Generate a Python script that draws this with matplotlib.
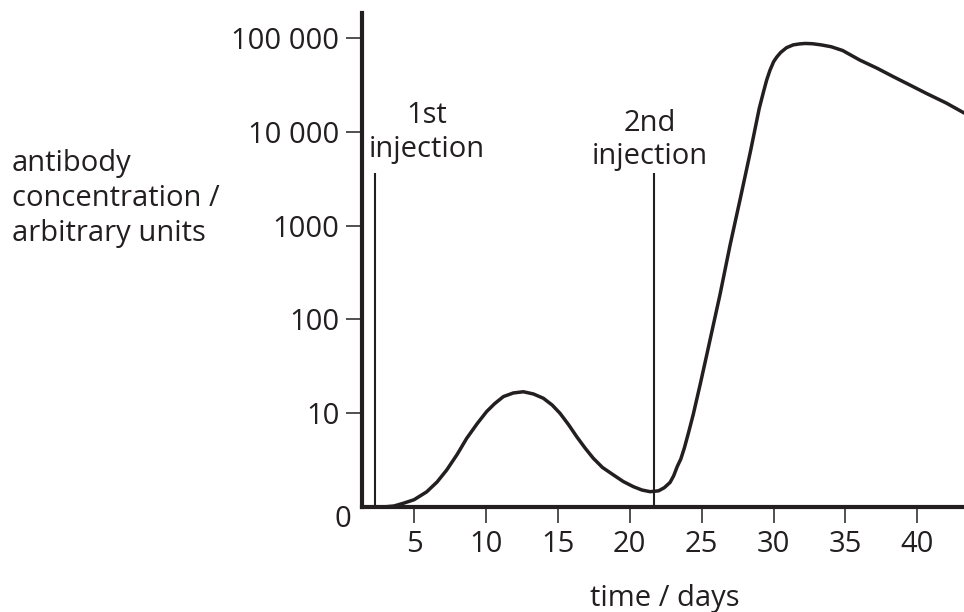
import matplotlib
matplotlib.use("Agg")
import matplotlib.pyplot as plt
from matplotlib.ticker import FixedLocator, FixedFormatter, NullLocator

plt.rcParams['font.family'] = ['Open Sans', 'DejaVu Sans']
INK = '#231f20'

# ---- data ----
days = [2.3, 3.0, 3.6, 4.25, 5.0, 5.88, 6.6, 7.27, 8.0, 8.66, 9.4, 10.05, 10.6,
        11.21, 11.9, 12.6, 13.3, 13.99, 14.6, 15.15, 15.75, 16.31, 16.9, 17.46,
        18.1, 18.86, 19.55, 20.25, 20.85, 21.41, 22.0, 22.4, 22.8, 23.05, 23.3,
        23.55, 23.8, 24.1, 24.42, 24.9, 25.35, 26.28, 26.97, 27.67, 28.4, 29.0,
        29.3, 29.52, 29.75, 30.0, 30.22, 30.5, 30.9, 31.37, 31.8, 32.19, 32.7,
        33.3, 34.0, 34.8, 36.0, 37.2, 38.33, 39.5, 40.65, 42.0, 43.3]
concentration = [1.0, 1.0, 1.02, 1.09, 1.19, 1.445, 1.84, 2.47, 3.63, 5.38, 7.76,
                 10.4, 12.6, 15.0, 16.4, 16.9, 16.0, 14.4, 12.2, 9.95, 7.50, 5.60,
                 4.22, 3.30, 2.63, 2.19, 1.86, 1.64, 1.51, 1.45, 1.48, 1.60, 1.82,
                 2.14, 2.69, 3.24, 4.27, 6.31, 9.77, 20.4, 41.7, 186, 617, 1905,
                 6300, 17800, 26900, 35900, 45700, 56200, 63100, 70800, 79400,
                 85100, 87100, 88100, 87500, 85100, 81300, 74100, 58500, 47900,
                 38900, 31600, 25700, 20400, 15800]

injection_days = [2.27, 21.67]
injection_line_top = 3630
injection_labels = ['1st\ninjection', '2nd\ninjection']
injection_label_x = [5.9, 21.36]
injection_label_y = [10 ** ((506.8 - 156.7) / 93.7), 10 ** ((506.8 - 164.0) / 93.7)]

x_ticks = [5, 10, 15, 20, 25, 30, 35, 40]
y_ticks = [10, 100, 1000, 10000, 100000]
y_tick_labels = ['10', '100', '1000', '10 000', '100 000']

FS = 21
W, H = 964, 612
fig = plt.figure(figsize=(W / 100, H / 100), dpi=100)
ax = fig.add_axes([362 / W, (H - 506.8) / H, (W - 362) / W, (506.8 - 13) / H])
ax.set_yscale('log')
ax.set_xlim(1.38, 43.24)
ax.set_ylim(1, 10 ** 5.27)

ax.plot(days, concentration, color=INK, lw=2.5, solid_capstyle='round',
        solid_joinstyle='round', clip_on=False, zorder=3)
ax.vlines(injection_days, 1, injection_line_top, color=INK, lw=1.5, zorder=2)
for lab, lx, ly in zip(injection_labels, injection_label_x, injection_label_y):
    ax.text(lx, ly, lab, ha='center', va='baseline', multialignment='center',
            fontsize=FS, color=INK, linespacing=1.2)

for s in ['top', 'right']:
    ax.spines[s].set_visible(False)
for s in ['left', 'bottom']:
    ax.spines[s].set_linewidth(3.0)
    ax.spines[s].set_color(INK)
    ax.spines[s].set_capstyle('projecting')

ax.xaxis.set_major_locator(FixedLocator(x_ticks))
ax.xaxis.set_minor_locator(NullLocator())
ax.yaxis.set_major_locator(FixedLocator(y_ticks))
ax.yaxis.set_major_formatter(FixedFormatter(y_tick_labels))
ax.yaxis.set_minor_locator(NullLocator())
ax.tick_params(axis='both', direction='out', length=11.5, width=1.1, color=INK,
               labelsize=FS, labelcolor=INK)
ax.tick_params(axis='x', pad=5)
ax.tick_params(axis='y', pad=4.8)

ax.annotate('0', xy=(1.38, 1), xytext=(-14, -9.5), textcoords='offset points',
            ha='center', va='center', fontsize=FS, color=INK, annotation_clip=False)

fig.text(11.7 / W, (H - 240.5) / H, 'antibody\nconcentration /\narbitrary units',
         ha='left', va='baseline', fontsize=FS, color=INK, linespacing=1.27)
fig.text(665 / W, (H - 606) / H, 'time / days', ha='center', va='baseline',
         fontsize=FS, color=INK)

fig.savefig('out.png', dpi=100)
